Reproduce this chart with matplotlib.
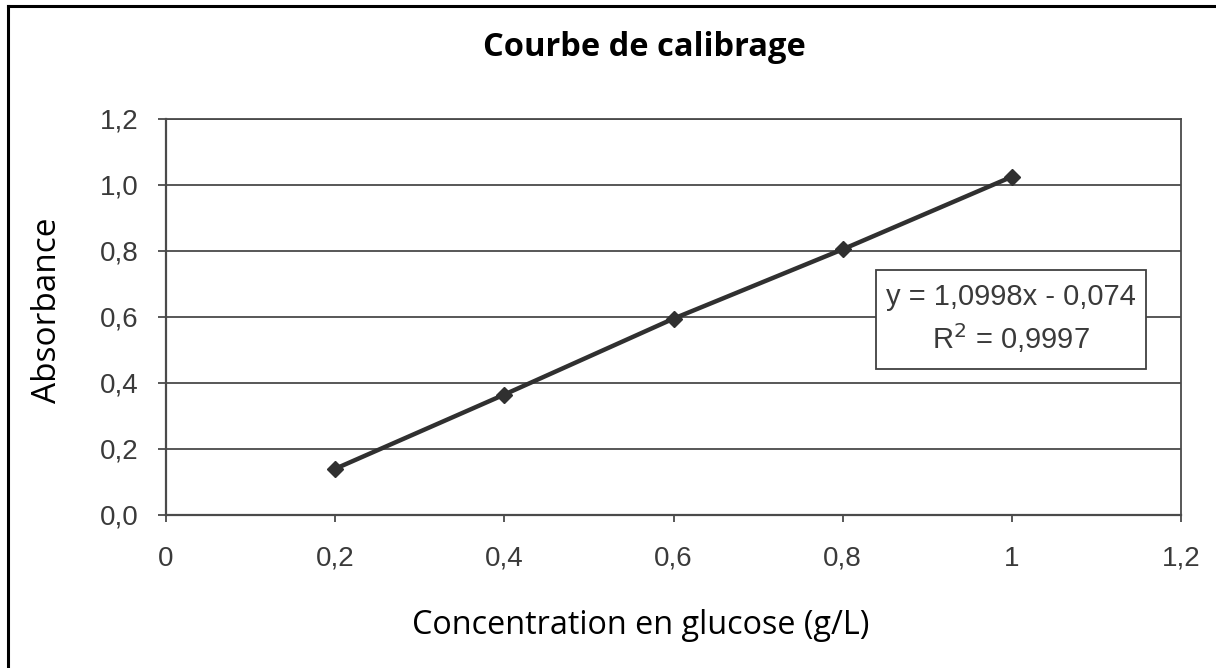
import matplotlib
matplotlib.use("Agg")
import matplotlib.pyplot as plt
from matplotlib.lines import Line2D

# Data
concentration = [0.2, 0.4, 0.6, 0.8, 1.0]
absorbance = [0.14, 0.365, 0.595, 0.805, 1.025]
x_ticks = [0, 0.2, 0.4, 0.6, 0.8, 1.0, 1.2]
x_tick_labels = ["0", "0,2", "0,4", "0,6", "0,8", "1", "1,2"]
y_ticks = [0.0, 0.2, 0.4, 0.6, 0.8, 1.0, 1.2]
y_tick_labels = ["0,0", "0,2", "0,4", "0,6", "0,8", "1,0", "1,2"]
title = "Courbe de calibrage"
xlabel = "Concentration en glucose (g/L)"
ylabel = "Absorbance"
equation = "y = 1,0998x - 0,074"
r2 = "R$^2$ = 0,9997"

W, H = 1216, 668
fig = plt.figure(figsize=(W / 100, H / 100), dpi=100)
fig.patch.set_facecolor("white")

ax = fig.add_axes([166 / W, 1 - 515 / H, (1181 - 166) / W, (515 - 119) / H])
ax.set_xlim(0, 1.2)
ax.set_ylim(0, 1.2)

grid_color = "#4a4a4a"
ax.set_yticks(y_ticks)
ax.set_yticklabels(y_tick_labels)
ax.set_xticks(x_ticks)
ax.set_xticklabels(x_tick_labels)
ax.yaxis.grid(True, color=grid_color, linewidth=1.3)
ax.set_axisbelow(True)
for s in ax.spines.values():
    s.set_color(grid_color)
    s.set_linewidth(1.3)
ax.spines["left"].set_linewidth(1.6)
ax.spines["bottom"].set_linewidth(1.6)

ax.tick_params(axis="y", direction="out", length=6, width=1.3, color=grid_color,
               pad=14, labelsize=20, labelcolor="#3a3a3a")
ax.tick_params(axis="x", direction="out", length=5, width=1.3, color=grid_color,
               pad=17, labelsize=20, labelcolor="#3a3a3a")
for lab in ax.get_xticklabels() + ax.get_yticklabels():
    lab.set_fontfamily("Liberation Sans")

ax.plot(concentration, absorbance, color="#303030", linewidth=3.2,
        marker="D", markersize=8, markerfacecolor="#303030",
        markeredgecolor="#303030", zorder=3)

# Equation box
box_x0, box_x1 = 876 / W, 1146 / W
box_y0, box_y1 = 1 - 369 / H, 1 - 270 / H
fig.patches.append(plt.Rectangle((box_x0, box_y0), box_x1 - box_x0, box_y1 - box_y0,
                                 transform=fig.transFigure, facecolor="white",
                                 edgecolor="#404040", linewidth=1.3, zorder=5))
fig.text(1011 / W, 1 - 297 / H, equation, ha="center", va="center",
         fontsize=21, family="Liberation Sans", color="#3a3a3a", zorder=6)
fig.text(1011 / W, 1 - 338 / H, r2, ha="center", va="center",
         fontsize=21, family="Liberation Sans", color="#3a3a3a", zorder=6)

# Titles and labels
fig.text(644 / W, 1 - 47 / H, title, ha="center", va="center",
         fontsize=23.5, fontweight="bold", family="Open Sans", color="black")
fig.text(641 / W, 1 - 626 / H, xlabel, ha="center", va="center",
         fontsize=23.3, family="Open Sans", color="black")
fig.text(48 / W, 1 - 310 / H, ylabel, ha="center", va="center", rotation=90,
         fontsize=24, family="Open Sans", color="black")

# Outer frame (top and left edges visible)
fig.add_artist(Line2D([7.5 / W, 1.0], [1 - 5.5 / H, 1 - 5.5 / H], transform=fig.transFigure,
                      color="black", linewidth=2.2))
fig.add_artist(Line2D([7.5 / W, 7.5 / W], [0, 1 - 5.5 / H], transform=fig.transFigure,
                      color="black", linewidth=2.2))

fig.savefig("out.png", dpi=100, facecolor="white")
